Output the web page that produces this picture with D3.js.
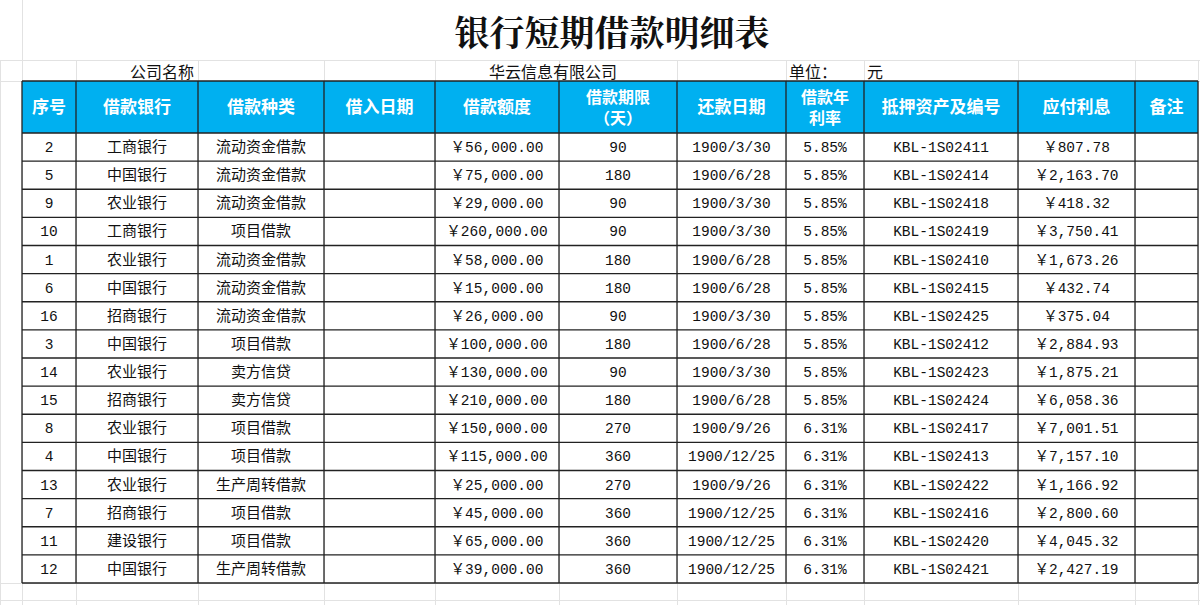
<!DOCTYPE html>
<html><head><meta charset="utf-8">
<script src="https://cdn.jsdelivr.net/npm/d3@7"></script>
<style>body{margin:0;background:#fff}</style></head>
<body><svg id="c" width="1200" height="605"></svg>
<script>
const headers=["序号","借款银行","借款种类","借入日期","借款额度","借款期限\n（天）","还款日期","借款年\n利率","抵押资产及编号","应付利息","备注"];
const ids=[2,5,9,10,1,6,16,3,14,15,8,4,13,7,11,12];
const banks=["工商银行","中国银行","农业银行","工商银行","农业银行","中国银行","招商银行","中国银行","农业银行","招商银行","农业银行","中国银行","农业银行","招商银行","建设银行","中国银行"];
const kinds=["流动资金借款","流动资金借款","流动资金借款","项目借款","流动资金借款","流动资金借款","流动资金借款","项目借款","卖方信贷","卖方信贷","项目借款","项目借款","生产周转借款","项目借款","项目借款","生产周转借款"];
const amounts=[56000,75000,29000,260000,58000,15000,26000,100000,130000,210000,150000,115000,25000,45000,65000,39000];
const terms=[90,180,90,90,180,180,90,180,90,180,270,360,270,360,360,360];
const dueDates=["1900/3/30","1900/6/28","1900/3/30","1900/3/30","1900/6/28","1900/6/28","1900/3/30","1900/6/28","1900/3/30","1900/6/28","1900/9/26","1900/12/25","1900/9/26","1900/12/25","1900/12/25","1900/12/25"];
const rates=["5.85%","5.85%","5.85%","5.85%","5.85%","5.85%","5.85%","5.85%","5.85%","5.85%","6.31%","6.31%","6.31%","6.31%","6.31%","6.31%"];
const assets=["KBL-1S02411","KBL-1S02414","KBL-1S02418","KBL-1S02419","KBL-1S02410","KBL-1S02415","KBL-1S02425","KBL-1S02412","KBL-1S02423","KBL-1S02424","KBL-1S02417","KBL-1S02413","KBL-1S02422","KBL-1S02416","KBL-1S02420","KBL-1S02421"];
const interest=[807.78,2163.70,418.32,3750.41,1673.26,432.74,375.04,2884.93,1875.21,6058.36,7001.51,7157.10,1166.92,2800.60,4045.32,2427.19];

const colEdges=[22,76,198,324,435,559,677,786,864,1018,1135,1198];
const svg=d3.select("#c");
const fmt=d3.format(",.2f");
const rowY=d3.scaleLinear().domain([0,16]).range([133,583]);
const CJK="'Noto Sans CJK SC',sans-serif", MONO="'Liberation Mono','Noto Sans CJK SC',monospace";

const bg=svg.append("g").attr("stroke","#e2e2e2").attr("stroke-width",1);
[0,22,76,198,324,435,559,677,786,864,1018,1135,1198].forEach(x=>bg.append("line").attr("x1",x+.5).attr("x2",x+.5).attr("y1",60).attr("y2",605));
[60,81,583,600].forEach(y=>bg.append("line").attr("x1",0).attr("x2",1200).attr("y1",y+.5).attr("y2",y+.5));
bg.append("line").attr("x1",22.5).attr("x2",22.5).attr("y1",0).attr("y2",60);

svg.append("text").attr("x",612).attr("y",46).attr("text-anchor","middle")
 .attr("font-family","'Noto Serif CJK SC','Noto Sans CJK SC',serif").attr("font-weight",700).attr("font-size",35).attr("fill","#111").text("银行短期借款明细表");

const info=svg.append("g").attr("font-family",CJK).attr("font-size",16).attr("fill","#111");
info.append("text").attr("x",162).attr("y",78).attr("text-anchor","middle").text("公司名称");
info.append("text").attr("x",553).attr("y",78).attr("text-anchor","middle").text("华云信息有限公司");
info.append("text").attr("x",789).attr("y",78).text("单位：");
info.append("text").attr("x",867).attr("y",78).text("元");

svg.append("rect").attr("x",22).attr("y",81).attr("width",1176).attr("height",52).attr("fill","#00b0f0");
const hg=svg.append("g").attr("font-family",CJK).attr("font-weight",700).attr("fill","#fff").attr("text-anchor","middle");
headers.forEach((h,i)=>{
 const cx=(colEdges[i]+colEdges[i+1])/2, lines=h.split("\n");
 const t=hg.append("text").attr("x",cx).attr("font-size",lines.length==1?17:16);
 lines.forEach((l,k)=>t.append("tspan").attr("x",cx).attr("y",lines.length==1?113:103+k*21).text(l));
});

const rows=ids.map((d,i)=>[String(d),banks[i],kinds[i],"","￥"+fmt(amounts[i]),String(terms[i]),dueDates[i],rates[i],assets[i],"￥"+fmt(interest[i]),""]);
const body=svg.append("g").attr("fill","#111").attr("text-anchor","middle");
rows.forEach((r,i)=>{
 const y=(rowY(i)+rowY(i+1))/2+5;
 r.forEach((v,j)=>{ if(!v)return;
  const cjk=/[\u4e00-\u9fff]/.test(v);
  body.append("text").attr("x",(colEdges[j]+colEdges[j+1])/2).attr("y",y)
   .attr("font-family",cjk?CJK:MONO).attr("font-size",cjk?15:14.5).text(v);});
});

const tl=svg.append("g").attr("stroke","#222").attr("stroke-width",1.3);
colEdges.forEach(x=>tl.append("line").attr("x1",x).attr("x2",x).attr("y1",81).attr("y2",583));
tl.append("line").attr("x1",22).attr("x2",1198).attr("y1",81).attr("y2",81);
d3.range(17).forEach(k=>tl.append("line").attr("x1",22).attr("x2",1198).attr("y1",rowY(k)).attr("y2",rowY(k)));
</script></body></html>
